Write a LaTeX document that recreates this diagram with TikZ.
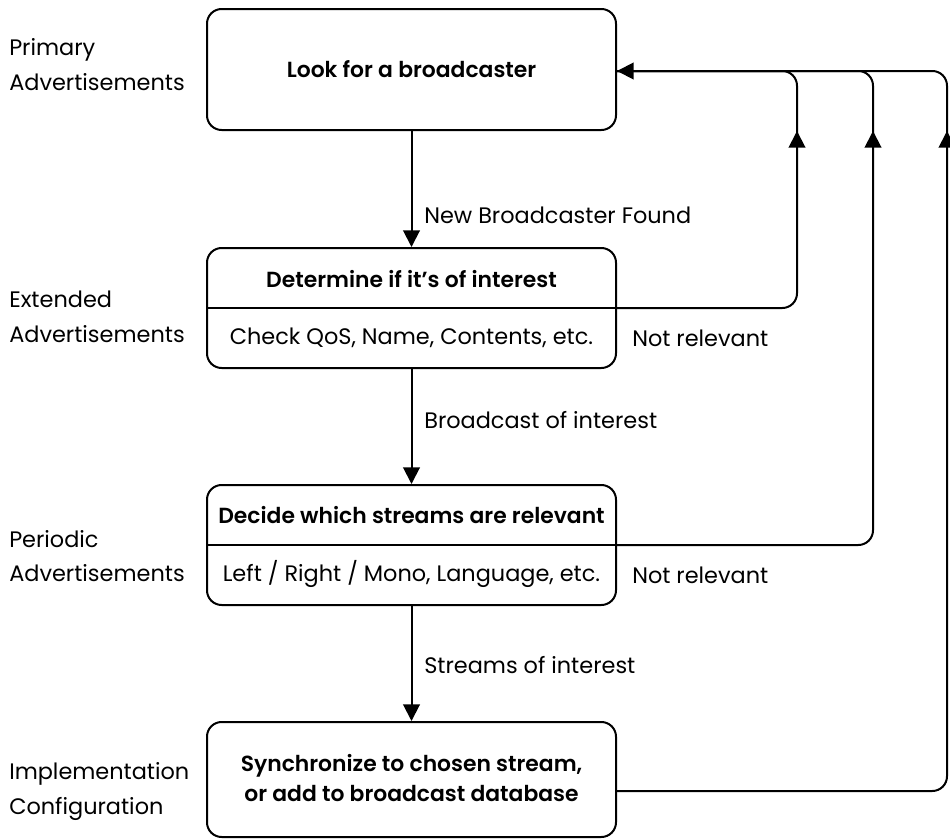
\documentclass[tikz,border=0pt]{standalone}
\usepackage{fontspec}
\setmainfont{Poppins}[BoldFont={Poppins SemiBold}]
\usetikzlibrary{arrows.meta}
\begin{document}
\begin{tikzpicture}[x=0.75pt,y=-0.75pt,
  font=\fontsize{16.8pt}{20pt}\selectfont,
  box/.style={draw, line width=1.5pt, rounded corners=11pt, minimum width=306.75pt, inner sep=0pt},
  ttl/.style={font=\fontsize{16.4pt}{22.5pt}\selectfont\bfseries, align=center},
  lbl/.style={anchor=west, inner sep=0pt},
  side/.style={anchor=west, align=left, inner sep=0pt, font=\fontsize{16.8pt}{26pt}\selectfont},
  con/.style={line width=1.5pt, -{Triangle[length=12.5pt,width=12.5pt]}},
  ln/.style={line width=1.5pt, rounded corners=11pt},
  tip/.style={line width=1.5pt, -{Triangle[length=12.5pt,width=12.5pt]}}
]
\useasboundingbox (0,0) rectangle (950,839);
% boxes
\node[box, minimum height=90.75pt] (b1) at (411.5,69.5) {};
\node[ttl] (b1t) at (b1.center) {Look for a broadcaster};
\node[box, minimum height=90pt] (b2) at (411.5,308) {};
\node[ttl] (b2t) at (411.5,279) {Determine if it’s of interest};
\node (b2s) at (411.5,338) {Check QoS, Name, Contents, etc.};
\draw[line width=1.5pt] (b2.west) -- (b2.east);
\node[box, minimum height=90pt] (b3) at (411.5,545) {};
\node[ttl] (b3t) at (411.5,515) {Decide which streams are relevant};
\node (b3s) at (411.5,574) {Left / Right / Mono, Language, etc.};
\draw[line width=1.5pt] (b3.west) -- (b3.east);
\node[box, minimum height=86.25pt] (b4) at (411.5,779.5) {};
\node[ttl] (b4t) at (411.5,778) {Synchronize to chosen stream,\\or add to broadcast database};
% side labels
\node[side] (s1) at (9,64.5) {Primary\\Advertisements};
\node[side] (s2) at (9,317) {Extended\\Advertisements};
\node[side] (s3) at (9,556) {Periodic\\Advertisements};
\node[side] (s4) at (9,791.5) {Implementation\\Configuration};
% vertical connectors
\draw[con] (b1.south) -- (b2.north);
\draw[con] (b2.south) -- (b3.north);
\draw[con] (b3.south) -- (b4.north);
\node[lbl] (l1) at (424,215) {New Broadcaster Found};
\node[lbl] (l2) at (424,420) {Broadcast of interest};
\node[lbl] (l3) at (424,665) {Streams of interest};
\node[lbl] (n1) at (632,338) {Not relevant};
\node[lbl] (n2) at (632,575) {Not relevant};
% loop coordinates
\coordinate (c1b) at (797,308);
\coordinate (c1t) at (797,71);
\coordinate (c2b) at (873,545);
\coordinate (c2t) at (873,71);
\coordinate (c3b) at (947,791);
\coordinate (c3t) at (947,71);
\coordinate (top) at (b1.east |- 0,71);
\draw[ln] (b2.east) -- (c1b) -- (c1t) -- (top);
\draw[ln] (b3.east) -- (c2b) -- (c2t) -- (top);
\draw[ln] (b4.east |- c3b) -- (c3b) -- (c3t) -- (top);
\draw[tip] (top -| 700,0) -- (top);
\draw[tip] (797,160) -- (797,131);
\draw[tip] (873,160) -- (873,131);
\draw[tip] (947,160) -- (947,131);
\end{tikzpicture}
\end{document}
